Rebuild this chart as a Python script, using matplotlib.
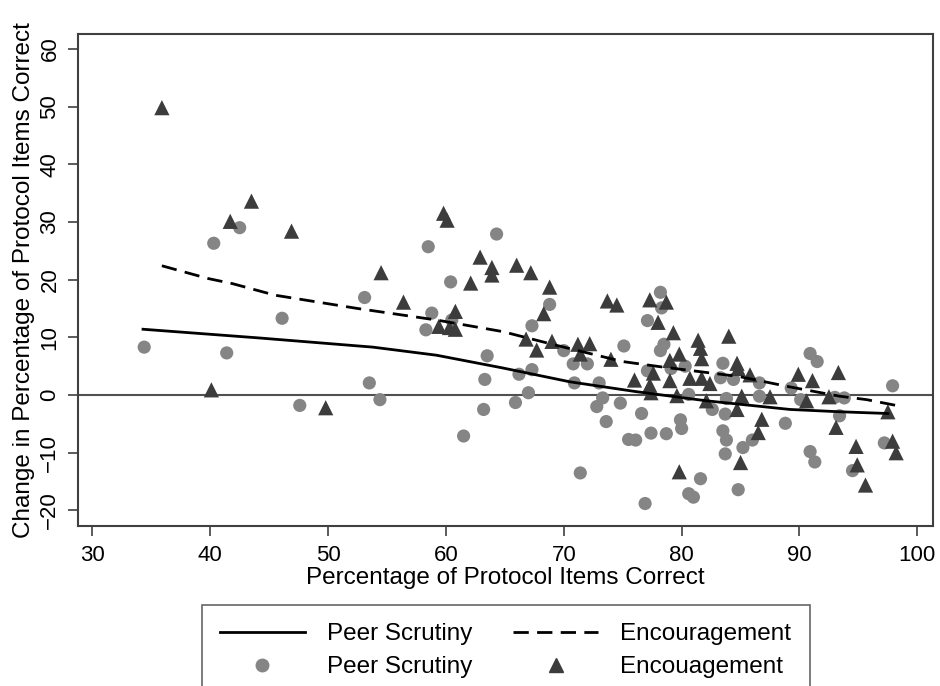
import matplotlib
matplotlib.use("Agg")
import matplotlib.pyplot as plt
from matplotlib.lines import Line2D

# ---------------- data ----------------
peer_x = [34.4, 40.3, 42.5, 41.4, 46.1, 47.6, 53.1, 53.5, 54.4, 58.5,
          64.3, 60.4, 58.8, 58.3, 60.5, 68.8, 67.3, 63.5, 70.0, 70.8,
          72.0, 67.3, 66.2, 63.3, 70.9, 73.0, 67.0, 65.9, 63.2, 61.5,
          71.4, 76.9, 73.3, 72.8, 74.8, 73.6, 76.6, 77.4, 75.5, 76.1,
          75.1, 77.1, 78.2, 78.2, 78.3, 77.1, 78.5, 83.5, 80.3, 79.1,
          83.3, 84.4, 86.6, 86.6, 80.6, 83.8, 78.7, 79.9, 80.0, 82.6,
          83.7, 83.5, 83.8, 83.7, 85.2, 86.0, 81.6, 80.6, 81.0, 84.8,
          90.9, 91.5, 89.3, 97.9, 93.0, 93.8, 90.1, 88.8, 93.4, 90.9,
          91.3, 94.5, 97.2]
peer_y = [8.3, 26.3, 29.0, 7.3, 13.3, -1.8, 16.9, 2.1, -0.8, 25.7,
          27.9, 19.6, 14.2, 11.3, 13.0, 15.7, 12.0, 6.8, 7.7, 5.4,
          5.4, 4.4, 3.6, 2.7, 2.1, 2.1, 0.4, -1.3, -2.5, -7.1,
          -13.5, -18.8, -0.5, -2.0, -1.4, -4.6, -3.2, -6.6, -7.7, -7.8,
          8.5, 4.2, 7.7, 17.8, 15.1, 12.9, 8.8, 5.5, 5.0, 4.6,
          3.0, 2.7, 2.1, -0.2, 0.1, -0.6, -6.7, -4.3, -5.8, -2.5,
          -3.3, -6.2, -7.8, -10.2, -9.1, -7.8, -14.5, -17.1, -17.7, -16.4,
          7.2, 5.8, 1.2, 1.6, -0.4, -0.5, -0.8, -4.9, -3.6, -9.8,
          -11.6, -13.1, -8.3]

enc_x = [35.9, 43.5, 41.7, 46.9, 40.1, 49.8, 54.5, 56.4, 59.8, 60.1,
         62.9, 63.9, 63.9, 66.0, 67.2, 62.1, 68.8, 68.3, 60.8, 59.4,
         60.3, 60.8, 66.8, 69.0, 67.7, 71.2, 72.2, 71.4, 73.7, 74.5,
         74.0, 76.0, 77.3, 78.7, 78.0, 79.3, 81.4, 81.6, 81.7, 84.0,
         79.8, 79.0, 84.7, 84.8, 85.8, 77.6, 79.0, 80.7, 81.7, 82.4,
         77.3, 77.4, 79.6, 85.1, 87.5, 82.1, 84.7, 79.8, 85.0, 86.5,
         86.8, 89.9, 91.1, 93.3, 90.6, 92.5, 97.5, 93.1, 94.8, 94.9,
         95.6, 97.9, 98.2]
enc_y = [49.8, 33.6, 30.1, 28.4, 0.9, -2.2, 21.2, 16.1, 31.5, 30.3,
         23.9, 22.1, 20.8, 22.5, 21.2, 19.4, 18.7, 14.1, 14.5, 11.9,
         11.7, 11.4, 9.7, 9.3, 7.8, 8.8, 8.9, 7.1, 16.3, 15.6,
         6.2, 2.6, 16.5, 16.1, 12.6, 10.8, 9.5, 8.1, 6.3, 10.2,
         7.1, 6.0, 5.5, 4.6, 3.5, 3.8, 2.5, 2.9, 2.9, 2.0,
         1.7, 0.4, -0.1, -0.2, -0.3, -1.0, -2.5, -13.3, -11.7, -6.5,
         -4.2, 3.6, 2.5, 3.9, -1.0, -0.3, -2.9, -5.6, -8.9, -12.1,
         -15.6, -8.0, -10.0]

# smoothed (lowess) curves
peer_fit_x = [34.3, 44.1, 53.8, 59.2, 64.8, 70.5, 76.1, 82.1, 89.2, 93.4, 97.5]
peer_fit_y = [11.4, 9.9, 8.3, 6.9, 4.7, 2.3, 0.6, -1.0, -2.5, -2.9, -3.2]
enc_fit_x = [35.9, 39.8, 41.9, 45.5, 52.5, 59.2, 64.8, 69.4, 75.0, 78.2,
             84.9, 89.2, 93.4, 95.7, 98.2]
enc_fit_y = [22.4, 20.2, 19.3, 17.3, 15.0, 13.0, 11.0, 8.6, 5.8, 4.9,
             3.2, 1.4, -0.2, -0.8, -1.8]

x_ticks = [30, 40, 50, 60, 70, 80, 90, 100]
y_ticks = [-20, -10, 0, 10, 20, 30, 40, 50, 60]
x_label = "Percentage of Protocol Items Correct"
y_label = "Change in Percentage of Protocol Items Correct"
legend_labels = ["Peer Scrutiny", "Encouragement", "Peer Scrutiny", "Encouagement"]

# ---------------- style ----------------
plt.rcParams["font.family"] = ["Liberation Sans", "DejaVu Sans"]

FS_TICK = 16
FS_LAB = 17.5
CIRCLE_C = "#858585"
TRI_C = "#3c3c3c"
FRAME_C = "#404040"

fig = plt.figure(figsize=(9.4, 6.86), dpi=100)
ax = fig.add_axes([0.0827, 0.2332, 0.9095, 0.7172])

ax.axhline(0, color="#505050", lw=1.5, zorder=1)
ax.scatter(peer_x, peer_y, s=90, marker="o", color=CIRCLE_C, edgecolors="none", zorder=2)
ax.scatter(enc_x, enc_y, s=120, marker="^", color=TRI_C, edgecolors="none", zorder=3)
ax.plot(peer_fit_x, peer_fit_y, color="black", lw=2.0, ls="-", zorder=4)
ax.plot(enc_fit_x, enc_fit_y, color="black", lw=2.0, ls=(0, (5.5, 3)), zorder=4)

ax.set_xlim(28.76, 101.3)
ax.set_ylim(-22.7, 62.56)
ax.set_xticks(x_ticks)
ax.set_yticks(y_ticks)
ax.tick_params(axis="both", direction="out", length=7.5, width=1.2,
               color=FRAME_C, labelsize=FS_TICK, pad=5)
ax.tick_params(axis="x", pad=6)
for lbl in ax.get_yticklabels():
    lbl.set_rotation(90)
    lbl.set_va("center")
for sp in ax.spines.values():
    sp.set_color(FRAME_C)
    sp.set_linewidth(1.5)

ax.set_xlabel(x_label, fontsize=FS_LAB, labelpad=1)
ax.set_ylabel(y_label, fontsize=FS_LAB, labelpad=3)

h_solid = Line2D([], [], color="black", lw=2.0, ls="-")
h_dash = Line2D([], [], color="black", lw=2.0, ls=(0, (5.5, 3)))
h_circ = Line2D([], [], color=CIRCLE_C, marker="o", ls="none", markersize=9)
h_tri = Line2D([], [], color=TRI_C, marker="^", ls="none", markersize=10)
leg = fig.legend([h_solid, h_circ, h_dash, h_tri],
                 [legend_labels[0], legend_labels[2], legend_labels[1], legend_labels[3]],
                 ncol=2, loc="upper center", bbox_to_anchor=(0.5378, 0.118),
                 bbox_transform=fig.transFigure, fontsize=FS_LAB, frameon=True,
                 fancybox=False, edgecolor=FRAME_C, handlelength=3.5,
                 handletextpad=0.9, columnspacing=1.7, labelspacing=0.45,
                 borderpad=0.75, borderaxespad=0)
leg.get_frame().set_linewidth(1.2)

fig.savefig("out.png", dpi=100)
